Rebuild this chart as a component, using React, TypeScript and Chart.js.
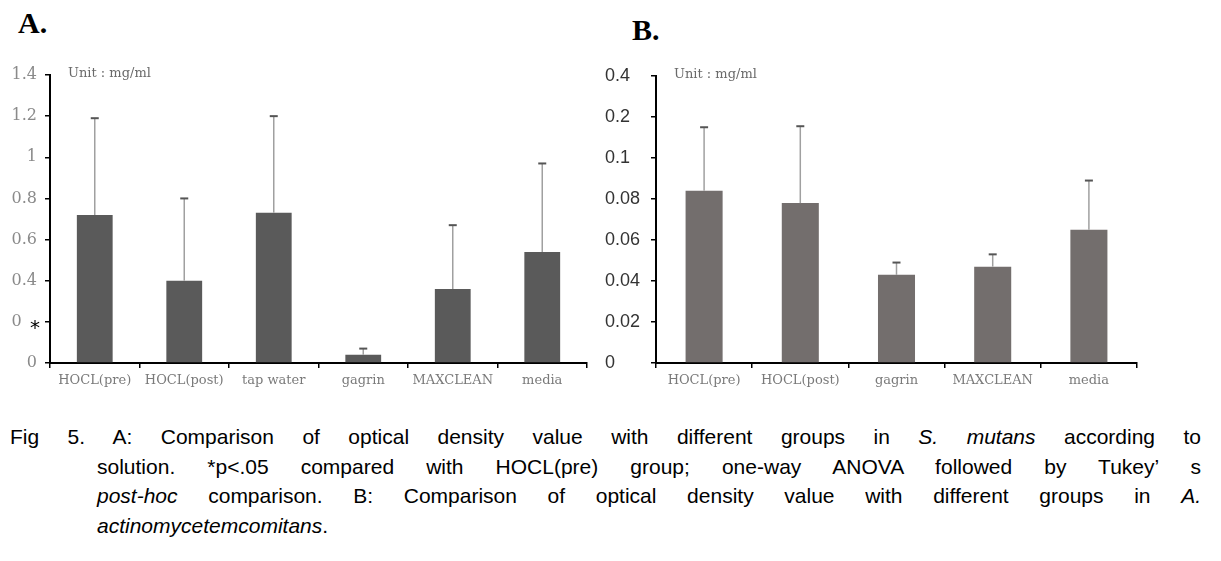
import React, { useEffect, useRef } from "react";
import { Chart, registerables } from "chart.js";
Chart.register(...registerables);

// ---- Panel A (S. mutans) ----
const categoriesA = ["HOCL(pre)", "HOCL(post)", "tap water", "gagrin", "MAXCLEAN", "media"];
const meansA = [0.72, 0.4, 0.73, 0.04, 0.36, 0.54];
const errorsA = [0.47, 0.4, 0.47, 0.03, 0.31, 0.43];
const tickLabelsA = ["0", "0.2", "0.4", "0.6", "0.8", "1", "1.2", "1.4"];

// ---- Panel B (A. actinomycetemcomitans) ----
const categoriesB = ["HOCL(pre)", "HOCL(post)", "gagrin", "MAXCLEAN", "media"];
const meansB = [0.084, 0.078, 0.043, 0.047, 0.065];
const errorsB = [0.031, 0.0375, 0.006, 0.006, 0.024];
const tickLabelsB = ["0", "0.02", "0.04", "0.06", "0.08", "0.1", "0.2", "0.4"];

const unitText = "Unit : mg/ml";

type PanelCfg = {
  labels: string[];
  means: number[];
  errors: number[];
  tickLabels: string[];
  max: number;
  step: number;
  barColor: string;
  barFrac: number;
  padding: { left: number; right: number; top: number; bottom: number };
  yWidth: number;
  tickFont: { family: string; size: number };
  tickColor: string;
  crossAlign: "near" | "far";
  yPad: number;
  asterisk: boolean;
};

function makeChart(canvas: HTMLCanvasElement, cfg: PanelCfg) {
  const errorPlugin = {
    id: "errbars",
    afterDatasetsDraw(chart: any) {
      const ctx = chart.ctx;
      const meta = chart.getDatasetMeta(0);
      const ys = chart.scales.y;
      meta.data.forEach((bar: any, i: number) => {
        const x = bar.x;
        const yTop = bar.y;
        const yErr = ys.getPixelForValue(cfg.means[i] + cfg.errors[i]);
        ctx.save();
        ctx.strokeStyle = "#a0a0a0";
        ctx.lineWidth = 1.5;
        ctx.beginPath();
        ctx.moveTo(x, yTop);
        ctx.lineTo(x, yErr);
        ctx.stroke();
        ctx.strokeStyle = "#555555";
        ctx.lineWidth = 2;
        ctx.beginPath();
        ctx.moveTo(x - 4, yErr);
        ctx.lineTo(x + 4, yErr);
        ctx.stroke();
        ctx.restore();
      });
    },
    afterDraw(chart: any) {
      const ctx = chart.ctx;
      const area = chart.chartArea;
      ctx.save();
      ctx.fillStyle = "#6a6a6a";
      ctx.font = "13px 'DejaVu Serif'";
      ctx.textBaseline = "middle";
      ctx.textAlign = "left";
      ctx.fillText(unitText, area.left + 18, area.top - 1);
      if (cfg.asterisk) {
        const y = chart.scales.y.getPixelForValue(0.2);
        ctx.fillStyle = "#ffffff";
        ctx.fillRect(area.left - 27, y - 10, 21, 20);
        ctx.fillStyle = "#000000";
        ctx.font = "20px 'DejaVu Sans'";
        ctx.textAlign = "center";
        ctx.textBaseline = "alphabetic";
        ctx.fillText("*", area.left - 15, y + 12);
      }
      ctx.restore();
    },
  };

  return new Chart(canvas, {
    type: "bar",
    data: {
      labels: cfg.labels,
      datasets: [
        {
          data: cfg.means,
          backgroundColor: cfg.barColor,
          borderWidth: 0,
          barPercentage: cfg.barFrac,
          categoryPercentage: 1,
        },
      ],
    },
    options: {
      responsive: false,
      animation: false,
      devicePixelRatio: 1,
      layout: { padding: cfg.padding },
      plugins: { legend: { display: false }, tooltip: { enabled: false }, title: { display: false } },
      scales: {
        x: {
          grid: { drawOnChartArea: false, drawTicks: true, tickLength: 5, color: "#000", lineWidth: 1.5, offset: true },
          border: { display: true, color: "#000", width: 2 },
          ticks: { color: "#7a7a7a", font: { family: "DejaVu Serif", size: 13 }, padding: 5, maxRotation: 0, autoSkip: false },
          afterFit: (s: any) => {
            s.height = 37;
          },
        },
        y: {
          min: 0,
          max: cfg.max,
          grid: { drawOnChartArea: false, drawTicks: true, tickLength: 5, color: "#000", lineWidth: 1.5 },
          border: { display: true, color: "#000", width: 2 },
          ticks: {
            stepSize: cfg.step,
            color: cfg.tickColor,
            font: cfg.tickFont,
            padding: cfg.yPad,
            crossAlign: cfg.crossAlign,
            callback: (_v: any, i: number) => cfg.tickLabels[i],
          },
          afterFit: (s: any) => {
            s.width = cfg.yWidth;
          },
        },
      },
    },
    plugins: [errorPlugin],
  } as any);
}

export default function App() {
  const refA = useRef<HTMLCanvasElement>(null);
  const refB = useRef<HTMLCanvasElement>(null);

  useEffect(() => {
    const a = makeChart(refA.current!, {
      labels: categoriesA,
      means: meansA,
      errors: errorsA,
      tickLabels: tickLabelsA,
      max: 1.4,
      step: 0.2,
      barColor: "#5a5a5a",
      barFrac: 0.4,
      padding: { left: 0, right: 23, top: 75, bottom: 0 },
      yWidth: 50,
      tickFont: { family: "DejaVu Serif", size: 16 },
      tickColor: "#8a8a8a",
      crossAlign: "near",
      yPad: 8,
      asterisk: true,
    });
    const b = makeChart(refB.current!, {
      labels: categoriesB,
      means: meansB,
      errors: errorsB,
      tickLabels: tickLabelsB,
      max: 0.14,
      step: 0.02,
      barColor: "#736e6d",
      barFrac: 0.385,
      padding: { left: 5, right: 23, top: 76, bottom: 0 },
      yWidth: 51,
      tickFont: { family: "Liberation Sans", size: 18 },
      tickColor: "#333333",
      crossAlign: "far",
      yPad: 8,
      asterisk: false,
    });
    return () => {
      a.destroy();
      b.destroy();
    };
  }, []);

  const lineStyle: React.CSSProperties = {
    position: "absolute",
    textAlign: "justify",
    textAlignLast: "justify" as any,
    height: 29.7,
    lineHeight: "29.7px",
  };

  return (
    <div style={{ position: "absolute", left: 0, top: 0, width: 1221, height: 561, background: "#fff", overflow: "hidden" }}>
      <div style={{ position: "absolute", left: 18, top: 6, font: "bold 30px 'Liberation Serif'", color: "#000" }}>A.</div>
      <div style={{ position: "absolute", left: 632, top: 13, font: "bold 30px 'Liberation Serif'", color: "#000" }}>B.</div>
      <canvas ref={refA} width={610} height={400} style={{ position: "absolute", left: 0, top: 0 }} />
      <canvas ref={refB} width={560} height={400} style={{ position: "absolute", left: 600, top: 0 }} />
      <div style={{ position: "absolute", left: 0, top: 422, width: 1221, font: "21px 'Liberation Sans', Arial, sans-serif", color: "#000" }}>
        <div style={{ ...lineStyle, left: 10, top: 0, width: 1191 }}>
          Fig 5. A: Comparison of optical density value with different groups in <i>S. mutans</i> according to
        </div>
        <div style={{ ...lineStyle, left: 97, top: 29.7, width: 1104 }}>
          solution. *p&lt;.05 compared with HOCL(pre) group; one-way ANOVA followed by Tukey’ s
        </div>
        <div style={{ ...lineStyle, left: 97, top: 59.4, width: 1104 }}>
          <i>post-hoc</i> comparison. B: Comparison of optical density value with different groups in <i>A.</i>
        </div>
        <div style={{ position: "absolute", left: 97, top: 89.1, lineHeight: "29.7px", whiteSpace: "nowrap" }}>
          <i>actinomycetemcomitans</i>.
        </div>
      </div>
    </div>
  );
}
